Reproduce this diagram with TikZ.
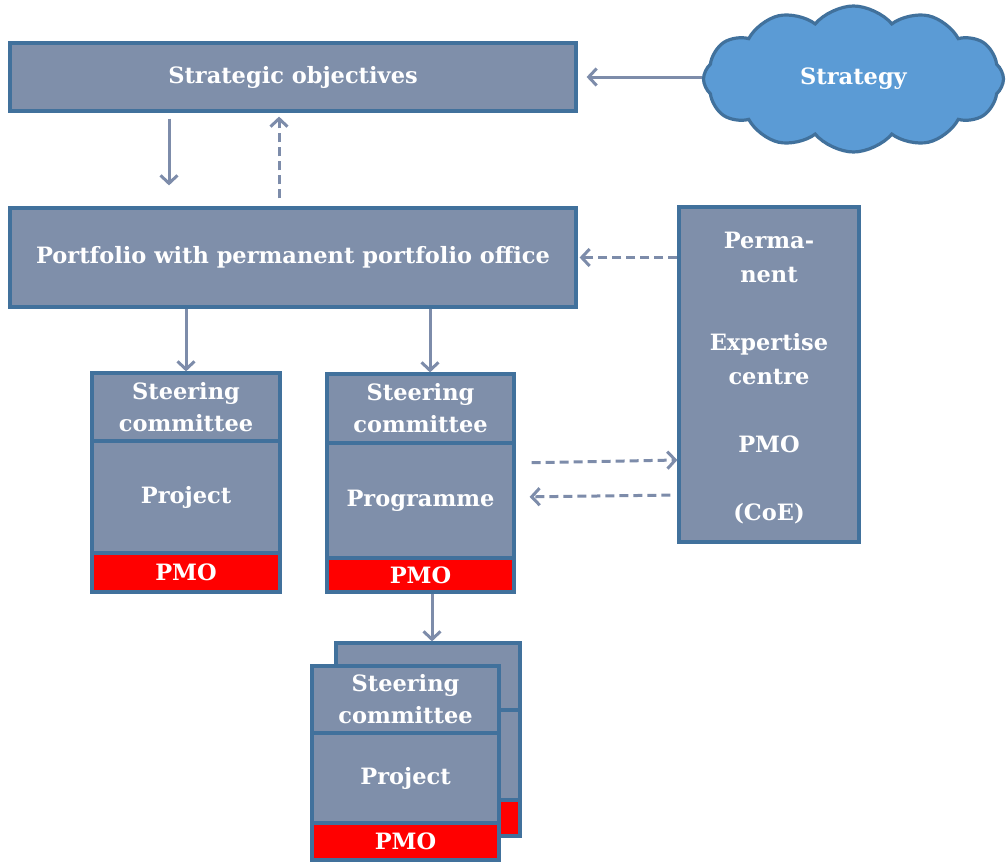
\documentclass[tikz,border=0pt]{standalone}
\usepackage{fontspec}
\setmainfont{DejaVu Serif}
\usetikzlibrary{arrows.meta,shapes.symbols}

\definecolor{boxfill}{RGB}{127,143,170}
\definecolor{boxline}{RGB}{65,113,156}
\definecolor{arrowc}{RGB}{125,140,170}
\definecolor{cloudfill}{RGB}{91,155,213}
\definecolor{pmored}{RGB}{255,0,0}

\begin{document}
\begin{tikzpicture}[x=1pt,y=-1pt,
  box/.style={draw=boxline, line width=3.2pt, fill=boxfill, text=white,
    font=\bfseries\fontsize{22.5}{32}\selectfont, align=center, inner sep=0pt},
  pmobox/.style={box, fill=pmored},
  lbl/.style={text=white, font=\bfseries\fontsize{22.5}{34}\selectfont, align=center, inner sep=0pt},
  arr/.style={draw=arrowc, line width=3pt, -{Straight Barb[length=8pt,width=17pt]}},
  darr/.style={arr, dash pattern=on 9pt off 5pt}]

\useasboundingbox (0,0) rectangle (1008,862);

% top level
\node[box, minimum width=566pt, minimum height=68pt] (strategic) at (293,77) {Strategic objectives};
\node[cloud, cloud puffs=12, cloud puff arc=100, cloud ignores aspect, draw=boxline, line width=3.2pt, fill=cloudfill,
  text=white, font=\bfseries\fontsize{22.5}{32}\selectfont,
  minimum width=300pt, minimum height=146pt, inner sep=0pt] (strategy) at (853.5,79) {Strategy};
\node[box, minimum width=566pt, minimum height=99pt] (portfolio) at (293,257.5) {Portfolio with permanent portfolio office};

% expertise centre
\node[box, minimum width=180pt, minimum height=335pt] (perm) at (769,374.5) {};
\node[lbl] (permtext) at (769,378) {Perma-\\nent\\[34pt]Expertise\\centre\\[34pt]PMO\\[34pt](CoE)};

% single project
\node[box, minimum width=188pt, minimum height=112pt] (p1main) at (186,497) {Project};
\node[box, minimum width=188pt, minimum height=68pt] (p1sc) at (186,407) {Steering\\committee};
\node[pmobox, minimum width=188pt, minimum height=39pt] (p1pmo) at (186,572.5) {PMO};

% programme
\node[box, minimum width=187pt, minimum height=115pt] (prmain) at (420.5,500.5) {Programme};
\node[box, minimum width=187pt, minimum height=69pt] (prsc) at (420.5,408.5) {Steering\\committee};
\node[pmobox, minimum width=187pt, minimum height=34pt] (prpmo) at (420.5,575) {PMO};

% stacked projects of the programme (back)
\node[box, minimum width=184pt, minimum height=90pt] (bmain) at (428,755) {};
\node[box, minimum width=184pt, minimum height=67pt] (bsc) at (428,676.5) {};
\node[pmobox, minimum width=184pt, minimum height=36pt] (bpmo) at (428,818) {};

% stacked projects of the programme (front)
\node[box, minimum width=187pt, minimum height=90pt] (fmain) at (405.5,778) {Project};
\node[box, minimum width=187pt, minimum height=67pt] (fsc) at (405.5,699.5) {Steering\\committee};
\node[pmobox, minimum width=187pt, minimum height=37pt] (fpmo) at (405.5,841.5) {PMO};

% connectors
\draw[arr, shorten >=9pt] (strategy.west |- strategic.east) -- (strategic.east);
\draw[arr, shorten <=6pt, shorten >=21pt] ([xshift=-124pt]strategic.south) -- ([xshift=-124pt]portfolio.north);
\draw[darr, shorten <=8pt, shorten >=4pt] ([xshift=-14pt]portfolio.north) -- ([xshift=-14pt]strategic.south);
\draw[darr, shorten >=2pt] (perm.west |- portfolio.east) -- (portfolio.east);
\draw[arr] (p1sc.north |- portfolio.south) -- (p1sc.north);
\draw[arr] ([xshift=9.5pt]prsc.north |- portfolio.south) -- ([xshift=9.5pt]prsc.north);
\draw[darr, shorten <=16pt] ([yshift=37.5pt]prmain.east) -- ([yshift=-85.5pt]perm.west);
\draw[darr, shorten <=7pt, shorten >=14pt] ([yshift=-120.5pt]perm.west) -- ([yshift=3.5pt]prmain.east);
\draw[arr] ([xshift=11.5pt]prpmo.south) -- ([xshift=4pt]bsc.north);
\end{tikzpicture}
\end{document}
